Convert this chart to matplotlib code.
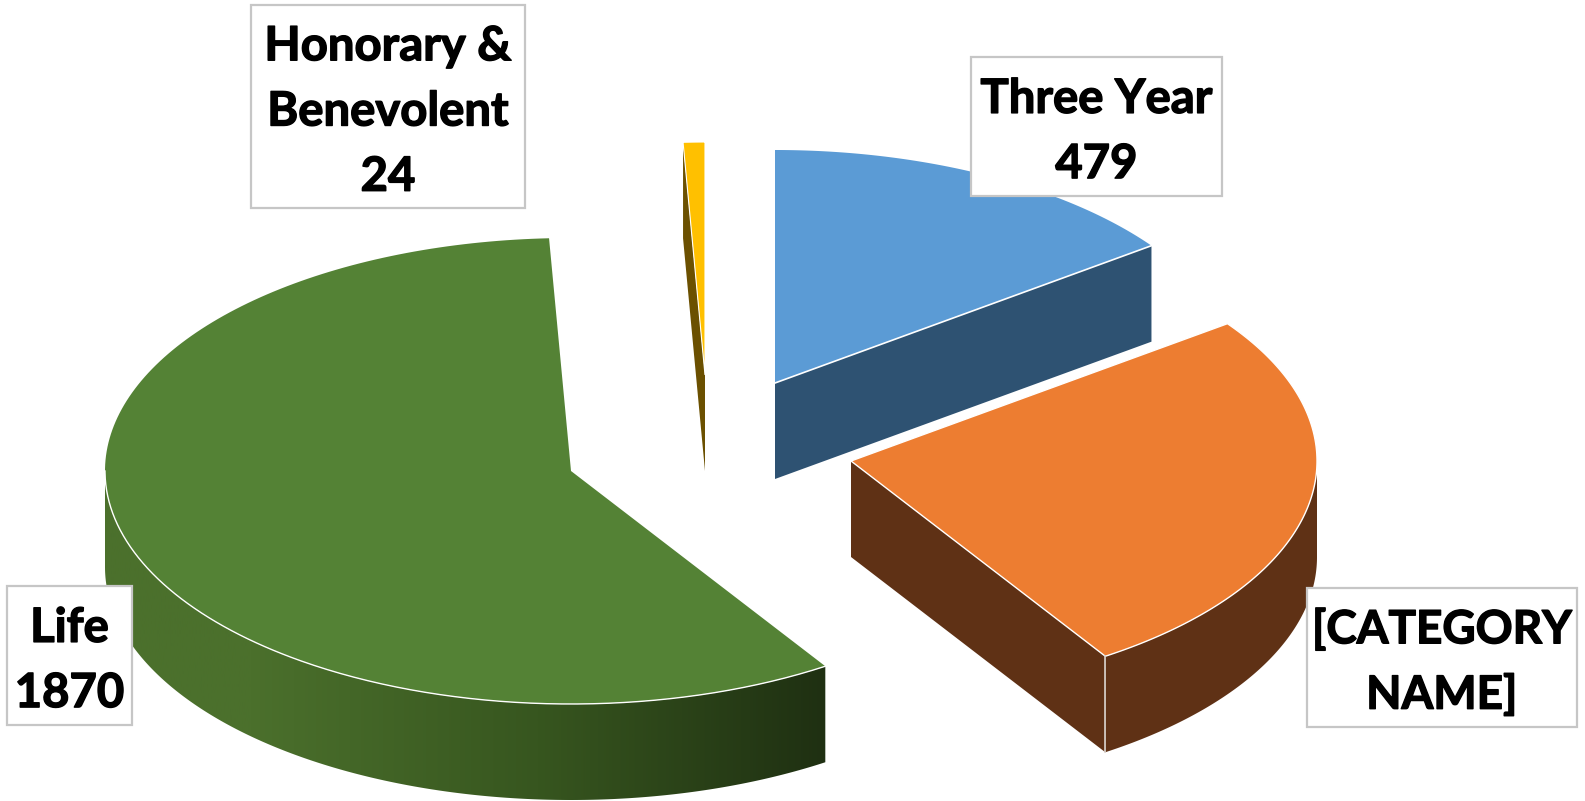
import matplotlib
matplotlib.use("Agg")
import matplotlib.pyplot as plt
import matplotlib.patheffects as pe
from matplotlib.colors import LinearSegmentedColormap
from matplotlib.patches import Polygon, Rectangle
import numpy as np

# membership counts, clockwise from 12 o'clock
categories = ["Three Year", "[CATEGORY NAME]", "Life", "Honorary & Benevolent"]
values = [479, 827, 1870, 24]
label_texts = ["Three Year\n479", "[CATEGORY\nNAME]", "Life\n1870", "Honorary &\nBenevolent\n24"]

top_colors = ["#5B9BD5", "#ED7D31", "#548235", "#FFC000"]
side_colors = ["#2E5272", "#5F3115", "#4B702C", "#6B5000"]

# pixel layout of the exploded slices
centers = [(775, 383), (851, 461), (571, 471), (705, 375)]
rx, ry, depth = 466, 233, 96
boxes = [(971, 57, 251, 139), (1307, 588, 270, 139), (7, 586, 125, 139), (251, 5, 274, 203)]
label_sizes = [34, 33, 34, 34]
label_spacing = [1.59, 1.64, 1.59, 1.59]

fracs = np.array(values) / sum(values)
ends = np.cumsum(fracs) * 2 * np.pi
starts = ends - fracs * 2 * np.pi


def arc(center, a0, a1, n=200):
    a = np.linspace(a0, a1, n)
    return np.column_stack([center[0] + rx * np.sin(a), center[1] - ry * np.cos(a)])


fig = plt.figure(figsize=(15.85, 8.01), dpi=100)
ax = fig.add_axes([0, 0, 1, 1])
drop = np.array([0, depth])

# honorary slice: cut face then top
c = centers[3]
p = arc(c, starts[3], starts[3], 2)[0]
ax.add_patch(Polygon([p, c, c + drop, p + drop], fc=side_colors[3], ec="none", zorder=1))
ax.add_patch(Polygon(np.vstack([[c], arc(c, starts[3], ends[3])]), fc=top_colors[3],
                     ec="white", lw=0.8, zorder=2))

# three year slice: cut face then top
c = centers[0]
p = arc(c, ends[0], ends[0], 2)[0]
ax.add_patch(Polygon(np.vstack([[c], arc(c, starts[0], ends[0])]), fc=top_colors[0],
                     ec="none", zorder=3))
ax.add_patch(Polygon([c, p, p + drop, c + drop], fc=side_colors[0], ec="none", zorder=3))
ax.plot([c[0], p[0]], [c[1], p[1]], color="white", lw=1.2, zorder=4)

# category slice: cut face, rim, top
c = centers[1]
p = arc(c, ends[1], ends[1], 2)[0]
rim = arc(c, np.pi / 2, ends[1])
ax.add_patch(Polygon(np.vstack([rim, (rim + drop)[::-1]]), fc=side_colors[1], ec="none", zorder=5))
ax.add_patch(Polygon([c, p, p + drop, c + drop], fc=side_colors[1], ec="none", zorder=5))
ax.add_patch(Polygon(np.vstack([[c], arc(c, starts[1], ends[1])]), fc=top_colors[1],
                     ec="white", lw=1.0, zorder=6))
ax.plot([p[0], p[0]], [p[1], p[1] + depth], color="#D9D2CC", lw=1.2, zorder=6)

# life slice: rim shaded left to right, then top
c = centers[2]
rim = arc(c, starts[2], 1.5 * np.pi, 260)
rim_poly = Polygon(np.vstack([rim, (rim + drop)[::-1]]), fc="none", ec="none", zorder=7)
ax.add_patch(rim_poly)
shade = LinearSegmentedColormap.from_list(
    "rim", [(0, side_colors[2]), (0.2, side_colors[2]), (0.6, "#37561F"), (1, "#1F3012")])
grad = ax.imshow(np.linspace(0, 1, 512)[None, :], cmap=shade, aspect="auto", zorder=7,
                 extent=(rim[:, 0].min(), rim[:, 0].max(), 801, 0))
grad.set_clip_path(rim_poly)
ax.add_patch(Polygon(np.vstack([[c], arc(c, starts[2], ends[2])]), fc=top_colors[2],
                     ec="none", zorder=8))
ax.plot(rim[:, 0], rim[:, 1], color="white", lw=1.0, zorder=9)

# data labels, stroked a little since Lato bold is lighter than the original face
for (x, y, w, h), txt, size, spacing in zip(boxes, label_texts, label_sizes, label_spacing):
    ax.add_patch(Rectangle((x, y), w, h, fc="white", ec="#C6C6C6", lw=1.6, zorder=10))
    ax.text(x + w / 2, y + h / 2 + 5, txt, ha="center", va="center", family="Lato",
            fontweight="bold", fontsize=size, color="black", linespacing=spacing, zorder=11,
            path_effects=[pe.withStroke(linewidth=1.0, foreground="black")])

ax.set_xlim(0, 1585)
ax.set_ylim(801, 0)
ax.axis("off")

fig.savefig("out.png", dpi=100)
